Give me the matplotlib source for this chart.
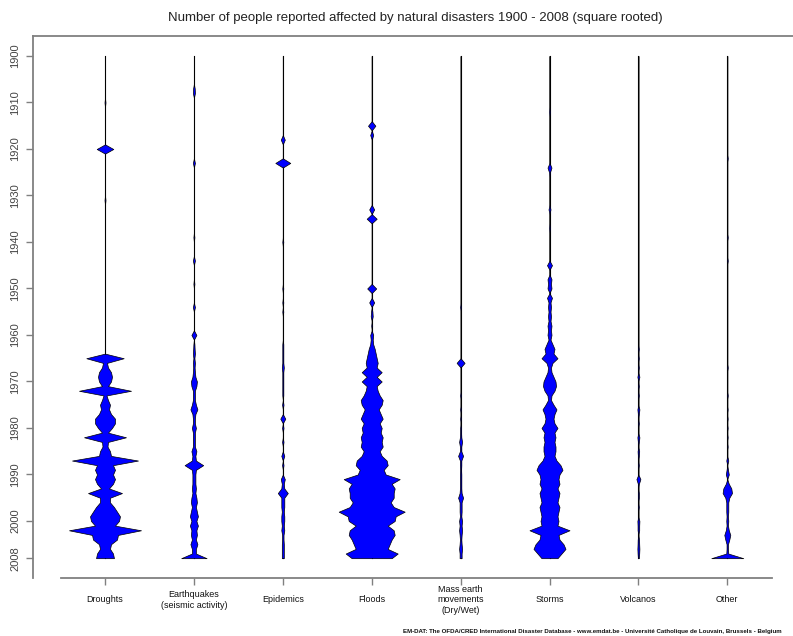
"""Number of people affected by natural disasters 1900-2008, square-rooted width profiles per type."""

import numpy as np
import matplotlib
matplotlib.use("Agg")
import matplotlib.pyplot as plt
import matplotlib.transforms as mtransforms

plt.rcParams["font.family"] = ["Liberation Sans", "DejaVu Sans"]

# people reported affected, millions, by year (years not listed = 0)
DROUGHTS = {1910: 0.06, 1920: 17.2, 1931: 0.06, 1965: 87.4, 1966: 1.0, 1967: 2.25, 1968: 9.0,
            1969: 12.25, 1970: 9.0, 1971: 2.25, 1972: 169, 1973: 0.56, 1974: 2.25, 1975: 6.25,
            1976: 4.0, 1977: 9.0, 1978: 25, 1979: 25, 1980: 12.25, 1981: 2.25, 1982: 110,
            1983: 2.25, 1984: 1.56, 1985: 6.25, 1986: 9.0, 1987: 272, 1988: 16, 1989: 25,
            1990: 16, 1991: 25, 1992: 16, 1993: 4.0, 1994: 72, 1995: 6.25, 1996: 6.25, 1997: 20,
            1998: 36, 1999: 56, 2000: 49, 2001: 25, 2002: 324, 2003: 42, 2004: 36, 2005: 9.0,
            2006: 6.25, 2007: 16, 2008: 20}
EARTHQUAKES = {1907: 0.16, 1908: 0.25, 1923: 0.25, 1939: 0.06, 1944: 0.25, 1949: 0.06, 1954: 0.25,
               1960: 1.56, 1962: 0.06, 1963: 0.12, 1964: 0.25, 1965: 0.06, 1966: 0.25, 1967: 0.12,
               1968: 0.25, 1969: 0.56, 1970: 2.25, 1971: 1.56, 1972: 0.25, 1973: 0.25, 1974: 0.25,
               1975: 1.0, 1976: 3.06, 1977: 0.56, 1978: 0.25, 1979: 0.25, 1980: 1.0, 1981: 0.25,
               1982: 0.25, 1983: 0.25, 1984: 0.25, 1985: 1.56, 1986: 0.56, 1987: 1.0, 1988: 21.6,
               1989: 1.0, 1990: 0.56, 1991: 0.56, 1992: 0.56, 1993: 1.0, 1994: 0.56, 1995: 1.56,
               1996: 2.25, 1997: 1.0, 1998: 2.25, 1999: 4.0, 2000: 1.56, 2001: 4.0, 2002: 1.56,
               2003: 2.25, 2004: 1.0, 2005: 3.06, 2006: 1.0, 2007: 1.0, 2008: 40.3}
EPIDEMICS = {1918: 1.0, 1923: 14, 1940: 0.06, 1950: 0.06, 1953: 0.06, 1955: 0.06, 1962: 0.06,
             1963: 0.06, 1964: 0.06, 1965: 0.06, 1966: 0.06, 1967: 0.25, 1968: 0.06, 1969: 0.06,
             1970: 0.06, 1971: 0.06, 1972: 0.06, 1973: 0.06, 1975: 0.12, 1978: 1.56, 1980: 0.12,
             1983: 0.12, 1986: 0.56, 1988: 0.12, 1991: 1.0, 1992: 0.25, 1993: 0.56, 1994: 6.25,
             1995: 0.56, 1996: 0.56, 1997: 0.56, 1998: 0.25, 1999: 0.56, 2000: 0.56, 2001: 0.25,
             2002: 0.56, 2003: 0.12, 2004: 0.12, 2005: 0.25, 2006: 0.25, 2007: 0.25, 2008: 0.25}
FLOODS = {1915: 3.4, 1917: 0.56, 1933: 1.56, 1935: 6.25, 1950: 5.06, 1953: 1.56, 1955: 0.12,
          1956: 0.25, 1958: 0.06, 1960: 0.56, 1961: 0.25, 1962: 0.56, 1963: 2.25, 1964: 4.0,
          1965: 6.25, 1966: 9.0, 1967: 6.25, 1968: 25, 1969: 6.25, 1970: 25, 1971: 6.25,
          1972: 9.0, 1973: 16, 1974: 30.25, 1975: 25, 1976: 12.25, 1977: 20.25, 1978: 30.25,
          1979: 16, 1980: 25, 1981: 20.25, 1982: 30.25, 1983: 25, 1984: 30.25, 1985: 16,
          1986: 25, 1987: 56, 1988: 64, 1989: 36, 1990: 49, 1991: 196, 1992: 100, 1993: 132,
          1994: 121, 1995: 121, 1996: 90, 1997: 121, 1998: 272, 1999: 144, 2000: 132, 2001: 64,
          2002: 121, 2003: 132, 2004: 100, 2005: 81, 2006: 64, 2007: 169, 2008: 100}
MASS_MOVEMENTS = {1954: 0.06, 1966: 4.0, 1973: 0.06, 1976: 0.06, 1978: 0.06, 1980: 0.06,
                  1981: 0.06, 1982: 0.12, 1983: 0.56, 1984: 0.12, 1985: 0.12, 1986: 1.56,
                  1987: 0.12, 1988: 0.12, 1989: 0.06, 1990: 0.12, 1991: 0.12, 1992: 0.12,
                  1993: 0.12, 1994: 0.25, 1995: 1.56, 1996: 0.25, 1997: 0.25, 1998: 0.25,
                  1999: 0.12, 2000: 0.56, 2001: 0.25, 2002: 0.56, 2003: 0.25, 2004: 0.12,
                  2005: 0.25, 2006: 0.56, 2007: 0.25, 2008: 0.25}
STORMS = {1912: 0.06, 1924: 1.0, 1925: 0.06, 1933: 0.25, 1937: 0.06, 1945: 1.56, 1948: 1.0,
          1949: 0.56, 1950: 1.0, 1952: 1.56, 1953: 0.25, 1954: 0.56, 1955: 0.25, 1956: 0.56,
          1957: 0.25, 1958: 1.0, 1959: 0.56, 1960: 1.0, 1961: 0.25, 1962: 2.25, 1963: 6.25,
          1964: 4.0, 1965: 16, 1966: 2.25, 1967: 0.56, 1968: 1.0, 1969: 4.0, 1970: 9.0,
          1971: 10.6, 1972: 6.25, 1973: 1.0, 1974: 0.56, 1975: 4.0, 1976: 12.25, 1977: 6.25,
          1978: 4.0, 1979: 6.25, 1980: 16, 1981: 6.25, 1982: 9.0, 1983: 6.25, 1984: 9.0,
          1985: 9.0, 1986: 6.25, 1987: 12.25, 1988: 30.25, 1989: 42.25, 1990: 25, 1991: 20.25,
          1992: 25, 1993: 16, 1994: 25, 1995: 20.25, 1996: 16, 1997: 25, 1998: 20.25, 1999: 16,
          2000: 20.25, 2001: 16, 2002: 100, 2003: 20.25, 2004: 25, 2005: 49, 2006: 64,
          2007: 36, 2008: 16}
VOLCANOS = {1963: 0.06, 1965: 0.06, 1967: 0.06, 1969: 0.25, 1971: 0.06, 1973: 0.06, 1976: 0.25,
            1977: 0.06, 1979: 0.06, 1982: 0.25, 1983: 0.06, 1985: 0.16, 1986: 0.06, 1988: 0.06,
            1991: 1.0, 1992: 0.06, 1994: 0.06, 1995: 0.06, 1997: 0.06, 2000: 0.25, 2001: 0.16,
            2002: 0.16, 2004: 0.12, 2005: 0.16, 2006: 0.25, 2007: 0.16, 2008: 0.06}
OTHER = {1922: 0.06, 1939: 0.06, 1944: 0.06, 1967: 0.06, 1973: 0.06, 1976: 0.04, 1978: 0.04,
         1980: 0.04, 1982: 0.04, 1984: 0.04, 1987: 0.25, 1989: 0.12, 1990: 0.56, 1992: 0.56,
         1993: 4.0, 1994: 5.5, 1995: 1.0, 1996: 0.25, 1997: 0.25, 1998: 0.25, 1999: 0.12,
         2000: 0.25, 2001: 0.12, 2002: 0.56, 2003: 2.25, 2004: 1.0, 2005: 0.12, 2006: 0.12,
         2007: 0.25, 2008: 64}

SERIES = [DROUGHTS, EARTHQUAKES, EPIDEMICS, FLOODS, MASS_MOVEMENTS, STORMS, VOLCANOS, OTHER]
LABELS = ["Droughts", "Earthquakes\n(seismic activity)", "Epidemics", "Floods",
          "Mass earth\nmovements\n(Dry/Wet)", "Storms", "Volcanos", "Other"]
YEARS = np.arange(1900, 2009)
YTICKS = list(range(1900, 2001, 10)) + [2008]

SCALE = 0.0225  # half-width (category units) per sqrt(million people)
AXIS_GREY = "#808080"

fig = plt.figure(figsize=(7.93, 6.36), dpi=100)
ax = fig.add_axes([33 / 793, 1 - 578 / 636, 1 - 33 / 793, (578 - 36) / 636])

for i, series in enumerate(SERIES, start=1):
    vals = np.array([series.get(y, 0.0) for y in YEARS])
    hw = SCALE * np.sqrt(vals)
    ax.plot([i, i], [YEARS[0], YEARS[-1]], color="black", lw=0.8, zorder=1)
    ax.fill_betweenx(YEARS, i - hw, i + hw, facecolor="#0000FF", edgecolor="black",
                     lw=0.5, zorder=2)

ax.set_xlim(0.19, 8.739)
ax.set_ylim(2012.26, 1895.70)

ax.spines["right"].set_visible(False)
for side in ["top", "left", "bottom"]:
    ax.spines[side].set_color(AXIS_GREY)
    ax.spines[side].set_linewidth(1.3)
ax.spines["bottom"].set_bounds(0.5, 8.5)

ax.set_yticks(YTICKS)
ax.set_yticklabels([str(y) for y in YTICKS], rotation=90, va="center", fontsize=8,
                   color="#444444")
ax.set_xticks(range(1, 9))
ax.set_xticklabels([])
ax.tick_params(axis="both", length=5, width=1, color=AXIS_GREY, direction="out")
ax.tick_params(axis="y", pad=4)

trans = mtransforms.blended_transform_factory(ax.transData, ax.transAxes)
for i, lab in enumerate(LABELS, start=1):
    ax.text(i, -22 / 542, lab, transform=trans, ha="center", va="center", fontsize=6.5,
            linespacing=1.15, color="#111111")

fig.text(415 / 793, 1 - 18 / 636,
         "Number of people reported affected by natural disasters 1900 - 2008 (square rooted)",
         ha="center", va="center", fontsize=9.5, color="#222222")
fig.text(403 / 793, 1 - 631 / 636,
         "EM-DAT: The OFDA/CRED International Disaster Database - www.emdat.be - "
         "Université Catholique de Louvain, Brussels - Belgium",
         ha="left", va="center", fontsize=4.4, fontweight="bold", color="#111111")

fig.savefig("out.png", dpi=100)
